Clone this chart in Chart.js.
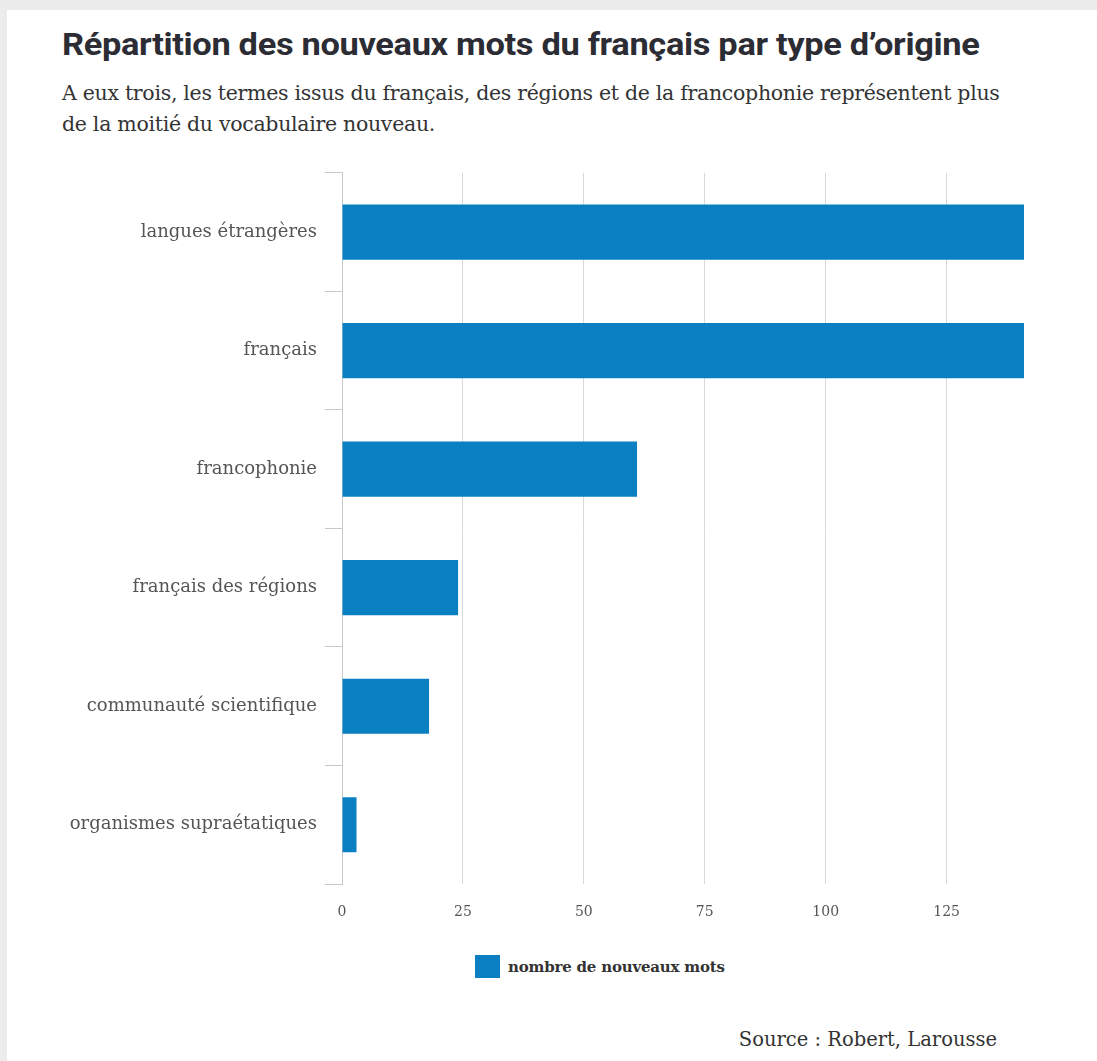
<!DOCTYPE html>
<html lang="fr">
<head>
<meta charset="utf-8">
<title>Répartition des nouveaux mots du français</title>
<script src="https://cdn.jsdelivr.net/npm/chart.js@4/dist/chart.umd.min.js"></script>
<style>
  body { margin: 0; background: #ececec; width: 1097px; height: 1061px; overflow: hidden; position: relative; }
  .card { position: absolute; left: 7px; top: 10px; right: 0; bottom: 0; background: #fff; }
  .title { position: absolute; left: 62px; top: 26px; font: 700 31px Roboto, sans-serif; color: #2c2c34; white-space: nowrap; transform-origin: left top; letter-spacing: -0.3px; }
  .subtitle { position: absolute; left: 62px; top: 78px; font: 20.5px "DejaVu Serif", serif; line-height: 31px; color: #333; letter-spacing: -0.3px; white-space: nowrap; }
  .chartBox { position: absolute; left: 0; top: 154px; width: 1097px; height: 770px; }
  .legend { position: absolute; left: 475px; top: 955px; font: 700 15px "DejaVu Serif", serif; color: #333; display: flex; align-items: center; letter-spacing: -0.2px; }
  .legend span.box { display: inline-block; width: 25px; height: 23px; background: #0a80c2; margin-right: 8px; }
  .source { position: absolute; right: 100px; top: 1028px; font: 19.5px "DejaVu Serif", serif; color: #333; }
</style>
</head>
<body>
<div class="card"></div>
<div class="title" id="title">Répartition des nouveaux mots du français par type d’origine</div>
<div class="subtitle">A eux trois, les termes issus du français, des régions et de la francophonie représentent plus<br>de la moitié du vocabulaire nouveau.</div>
<div class="chartBox"><canvas id="myChart"></canvas></div>
<div class="legend"><span class="box"></span>nombre de nouveaux mots</div>
<div class="source">Source : Robert, Larousse</div>
<script>
// data
const categories = [
  'langues étrangères',
  'français',
  'francophonie',
  'français des régions',
  'communauté scientifique',
  'organismes supraétatiques',
];
const nouveauxMots = [141, 141, 61, 24, 18, 3];
const xTicks = [0, 25, 50, 75, 100, 125];
const seriesLabel = 'nombre de nouveaux mots';

// squeeze the title to the width it has in the picture
const titleEl = document.getElementById('title');
titleEl.style.transform = 'scaleX(' + (918 / titleEl.offsetWidth) + ')';

const ctx = document.getElementById('myChart');
const myChart = new Chart(ctx, {
  type: 'bar',
  data: {
    labels: categories,
    datasets: [
      {
        label: seriesLabel,
        data: nouveauxMots,
        backgroundColor: '#0a80c2',
        barPercentage: 0.93,
        categoryPercentage: 0.5,
      },
    ],
  },
  options: {
    indexAxis: 'y',
    responsive: true,
    maintainAspectRatio: false,
    animation: false,
    layout: { padding: { top: 6, right: 73, bottom: 0, left: 0 } },
    plugins: {
      legend: { display: false },
      tooltip: { enabled: false },
    },
    scales: {
      x: {
        min: 0,
        max: 141,
        afterBuildTicks: scale => {
          scale.ticks = xTicks.map(v => ({ value: v }));
        },
        afterFit: scale => {
          scale.height = 40;
        },
        grid: { color: '#d9d9d9', drawTicks: false, lineWidth: 1 },
        border: { display: false },
        ticks: {
          padding: 20,
          color: '#555',
          font: { family: 'DejaVu Serif', size: 14 },
        },
      },
      y: {
        afterFit: scale => {
          scale.width = 342;
        },
        grid: {
          offset: true,
          drawOnChartArea: false,
          drawTicks: true,
          tickLength: 17,
          color: '#c8c8c8',
        },
        border: { color: '#c8c8c8' },
        ticks: {
          padding: 8,
          color: '#555',
          font: { family: 'DejaVu Serif', size: 18 },
        },
      },
    },
  },
});
</script>
</body>
</html>
